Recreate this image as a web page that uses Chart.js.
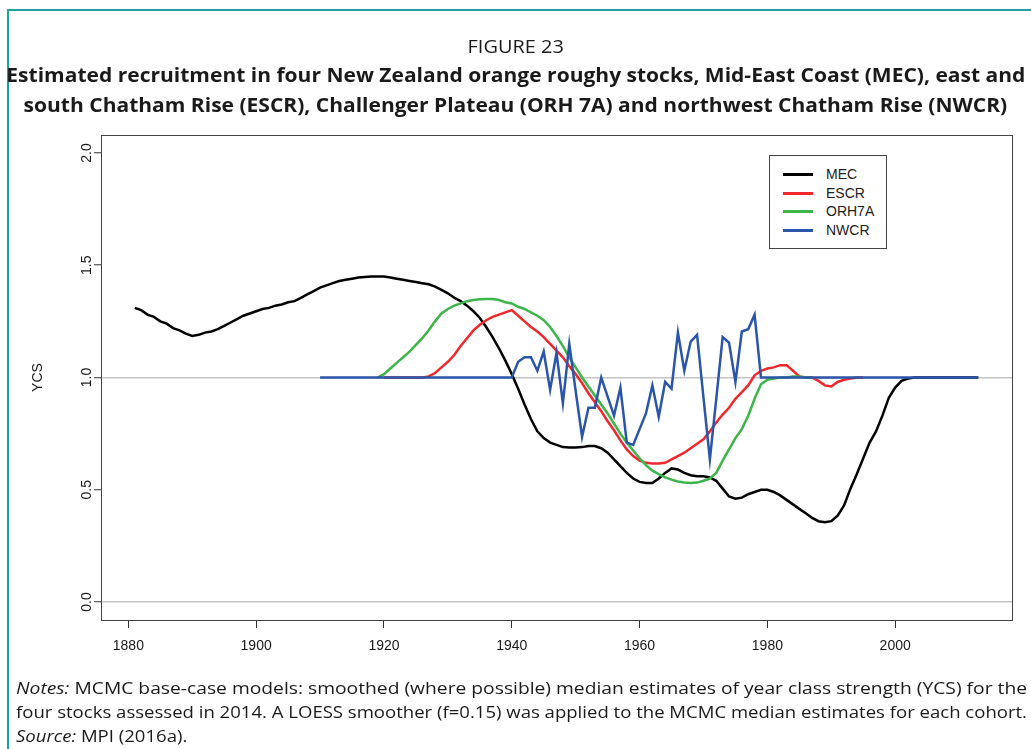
<!DOCTYPE html>
<html>
<head>
<meta charset="utf-8">
<script src="https://cdn.jsdelivr.net/npm/chart.js@4.4.1/dist/chart.umd.min.js"></script>
<style>
  html, body { margin: 0; padding: 0; background: #fff; }
  #wrap { position: relative; width: 1031px; height: 749px; overflow: hidden; }
  #frame { position: absolute; left: 7px; top: 9px; width: 1100px; height: 800px;
           border-left: 2px solid #1fa39e; border-top: 2px solid #1fa39e; }
  canvas { position: absolute; left: 0; top: 0; }
  .t { position: absolute; left: 0; width: 1031px; text-align: center; white-space: nowrap;
       font-family: "Open Sans", sans-serif; color: #1a1a1a; }
  .t span, .n span { display: inline-block; }
  .n { position: absolute; left: 16px; white-space: nowrap; font-family: "Open Sans", sans-serif;
       font-size: 17px; line-height: 24px; color: #1a1a1a; }
  #legend { position: absolute; left: 769px; top: 155px; width: 116px; height: 92px;
            border: 1px solid #444; background: #fff; font-family: "Liberation Sans", Arial, sans-serif;
            font-size: 14px; color: #222; }
  .li { position: absolute; left: 0; height: 18px; line-height: 18px; }
  .li i { position: absolute; left: 13px; top: 8px; width: 30px; height: 3px; }
  .li b { position: absolute; left: 56px; top: 0; font-weight: normal; }
</style>
</head>
<body>
<div id="wrap">
  <div id="frame"></div>
  <canvas id="chart" width="1031" height="749"></canvas>
  <div class="t" style="top:33px;font-size:18.5px;line-height:26px;"><span id="t1">FIGURE 23</span></div>
  <div class="t" style="top:60px;font-size:19.5px;line-height:30px;font-weight:bold;"><span id="t2">Estimated recruitment in four New Zealand orange roughy stocks, Mid-East Coast (MEC), east and</span></div>
  <div class="t" style="top:90px;font-size:19.5px;line-height:30px;font-weight:bold;"><span id="t3">south Chatham Rise (ESCR), Challenger Plateau (ORH 7A) and northwest Chatham Rise (NWCR)</span></div>
  <div class="n" style="top:676px;"><span id="n1"><i>Notes:</i> MCMC base-case models: smoothed (where possible) median estimates of year class strength (YCS) for the</span></div>
  <div class="n" style="top:700px;"><span id="n2">four stocks assessed in 2014. A LOESS smoother (f=0.15) was applied to the MCMC median estimates for each cohort.</span></div>
  <div class="n" style="top:724px;"><span id="n3"><i>Source:</i> MPI (2016a).</span></div>
  <div id="legend"></div>
</div>
<script>
// recruitment (YCS) by year class
const mecStart = 1881;
const mecYCS = [
  1.31, 1.30, 1.28, 1.27, 1.25, 1.24, 1.22, 1.21, 1.195, 1.185,
  1.19, 1.20, 1.205, 1.215, 1.23, 1.245, 1.26, 1.275, 1.285, 1.295,
  1.305, 1.31, 1.32, 1.325, 1.335, 1.34, 1.355, 1.37, 1.385, 1.40,
  1.41, 1.42, 1.43, 1.435, 1.44, 1.445, 1.448, 1.45, 1.45, 1.45,
  1.445, 1.44, 1.435, 1.43, 1.425, 1.42, 1.415, 1.405, 1.39, 1.375,
  1.355, 1.34, 1.32, 1.295, 1.265, 1.225, 1.18, 1.13, 1.075, 1.015,
  0.95, 0.88, 0.815, 0.76, 0.73, 0.71, 0.70, 0.69, 0.688, 0.688,
  0.69, 0.695, 0.695, 0.685, 0.665, 0.635, 0.605, 0.575, 0.55, 0.535,
  0.53, 0.53, 0.55, 0.575, 0.595, 0.59, 0.575, 0.565, 0.56, 0.56,
  0.555, 0.54, 0.505, 0.47, 0.46, 0.465, 0.48, 0.49, 0.50, 0.50,
  0.49, 0.475, 0.455, 0.435, 0.415, 0.395, 0.375, 0.36, 0.355, 0.36,
  0.385, 0.43, 0.505, 0.57, 0.64, 0.71, 0.76, 0.83, 0.91, 0.955,
  0.985, 0.995, 1.0, 1.0, 1.0, 1.0, 1.0, 1.0, 1.0, 1.0,
  1.0, 1.0, 1.0
];

const escrStart = 1920;
const escrYCS = [
  1.0, 1.0, 1.0, 1.0, 1.0, 1.0, 1.0, 1.005, 1.02, 1.045,
  1.07, 1.10, 1.14, 1.175, 1.21, 1.235, 1.255, 1.27, 1.28, 1.29,
  1.30, 1.275, 1.25, 1.225, 1.205, 1.18, 1.15, 1.12, 1.09, 1.05,
  1.015, 0.975, 0.93, 0.89, 0.85, 0.805, 0.765, 0.72, 0.68, 0.65,
  0.63, 0.62, 0.617, 0.617, 0.62, 0.635, 0.65, 0.665, 0.685, 0.705,
  0.725, 0.76, 0.80, 0.835, 0.865, 0.905, 0.935, 0.965, 1.01, 1.03,
  1.04, 1.045, 1.055, 1.055, 1.03, 1.005, 1.0, 1.0, 0.985, 0.965,
  0.96, 0.98, 0.99, 0.995, 1.0, 1.0
];

const orhStart = 1919;
const orhYCS = [
  1.0, 1.015, 1.04, 1.065, 1.09, 1.115, 1.145, 1.175, 1.21, 1.25,
  1.285, 1.305, 1.32, 1.33, 1.34, 1.345, 1.348, 1.35, 1.35, 1.345,
  1.335, 1.33, 1.315, 1.305, 1.29, 1.275, 1.255, 1.225, 1.185, 1.14,
  1.09, 1.045, 1.0, 0.96, 0.92, 0.88, 0.84, 0.795, 0.75, 0.71,
  0.675, 0.64, 0.61, 0.585, 0.57, 0.555, 0.545, 0.537, 0.532, 0.53,
  0.532, 0.54, 0.55, 0.575, 0.63, 0.68, 0.73, 0.77, 0.83, 0.905,
  0.97, 0.99, 0.995, 1.0, 1.0, 1.005, 1.005, 1.0, 1.0
];

const nwcrStart = 1910;
const nwcrYCS = [
  1.0, 1.0, 1.0, 1.0, 1.0, 1.0, 1.0, 1.0, 1.0, 1.0,
  1.0, 1.0, 1.0, 1.0, 1.0, 1.0, 1.0, 1.0, 1.0, 1.0,
  1.0, 1.0, 1.0, 1.0, 1.0, 1.0, 1.0, 1.0, 1.0, 1.0,
  1.0, 1.07, 1.09, 1.09, 1.03, 1.115, 0.945, 1.11, 0.885, 1.15,
  0.94, 0.735, 0.865, 0.865, 1.0, 0.915, 0.83, 0.955, 0.71, 0.70,
  0.77, 0.84, 0.965, 0.825, 0.98, 0.95, 1.20, 1.03, 1.16, 1.19,
  0.91, 0.635, 0.905, 1.18, 1.155, 0.98, 1.205, 1.215, 1.28, 1.0,
  1.0, 1.0, 1.0, 1.0, 1.0, 1.0, 1.0, 1.0, 1.0, 1.0,
  1.0, 1.0, 1.0, 1.0, 1.0, 1.0, 1.0, 1.0, 1.0, 1.0,
  1.0, 1.0, 1.0, 1.0, 1.0, 1.0, 1.0, 1.0, 1.0, 1.0,
  1.0, 1.0, 1.0, 1.0
];

const stockNames = ['MEC', 'ESCR', 'ORH7A', 'NWCR'];
const stockColors = ['#000000', '#f0282d', '#3cb54a', '#2a55a9'];
const xTicks = [1880, 1900, 1920, 1940, 1960, 1980, 2000];
const yTicks = [0, 0.5, 1, 1.5, 2];
const refLines = [0, 1];

const toPoints = (start, vals) => vals.map((v, i) => ({x: start + i, y: v}));
const series = [
  toPoints(mecStart, mecYCS),
  toPoints(escrStart, escrYCS),
  toPoints(orhStart, orhYCS),
  toPoints(nwcrStart, nwcrYCS),
];

const axisFont = {family: 'Liberation Sans', size: 14};

// plot frame (R box())
const boxPlugin = {
  id: 'box',
  beforeDatasetsDraw(chart) {
    const a = chart.chartArea;
    const ctx = chart.ctx;
    ctx.save();
    ctx.strokeStyle = '#444';
    ctx.lineWidth = 1;
    ctx.strokeRect(Math.round(a.left) + 0.5, Math.round(a.top) + 0.5,
      Math.round(a.right - a.left), Math.round(a.bottom - a.top));
    ctx.restore();
  }
};

let ctx = document.getElementById('chart').getContext('2d');
const chart = new Chart(ctx, {
  type: 'line',
  data: {
    datasets: stockNames.map((name, i) => ({
      label: name,
      data: series[i],
      borderColor: stockColors[i],
      backgroundColor: stockColors[i],
      borderWidth: 2.5,
      pointRadius: 0,
      tension: 0,
      fill: false,
      order: stockNames.length - 1 - i,
    }))
  },
  plugins: [boxPlugin],
  options: {
    responsive: false,
    animation: false,
    layout: {padding: {left: 0, right: 19, top: 135, bottom: 0}},
    plugins: {
      legend: {display: false},
      tooltip: {enabled: false},
    },
    scales: {
      x: {
        type: 'linear',
        min: 1875.72,
        max: 2018.28,
        afterBuildTicks: s => { s.ticks = xTicks.map(v => ({value: v})); },
        afterFit: s => { s.height = 129; },
        ticks: {
          autoSkip: false, maxRotation: 0, font: axisFont, color: '#1a1a1a', padding: 10,
          callback: v => String(v),
        },
        grid: {drawOnChartArea: false, drawTicks: true, tickLength: 8, tickColor: '#333', tickWidth: 1},
        border: {display: true, color: '#444', width: 1},
      },
      y: {
        type: 'linear',
        min: -0.08,
        max: 2.08,
        afterBuildTicks: s => { s.ticks = yTicks.map(v => ({value: v})); },
        afterFit: s => { s.width = 101; },
        ticks: {
          minRotation: 90, maxRotation: 90, crossAlign: 'center', padding: -3,
          font: axisFont, color: '#1a1a1a',
          callback: v => v.toFixed(1),
        },
        grid: {
          color: c => (c.tick && refLines.includes(c.tick.value)) ? '#c4c4c4' : 'rgba(0,0,0,0)',
          lineWidth: 1.5,
          drawTicks: true, tickLength: 7, tickColor: '#333', tickWidth: 1,
        },
        border: {display: true, color: '#444', width: 1},
        title: {
          display: true, text: 'YCS', color: '#1a1a1a',
          font: {family: 'Liberation Sans', size: 14},
          padding: {top: 30, bottom: 0},
        },
      },
    },
  },
});

// legend inside the plot
const lg = document.getElementById('legend');
stockNames.forEach((name, i) => {
  const row = document.createElement('div');
  row.className = 'li';
  row.style.top = (9 + i * 18.5) + 'px';
  row.style.width = '116px';
  row.innerHTML = '<i style="background:' + stockColors[i] + '"></i><b>' + name + '</b>';
  lg.appendChild(row);
});

// squeeze the condensed-looking text to the reference widths
function fit(id, target, origin) {
  const el = document.getElementById(id);
  const k = target / el.getBoundingClientRect().width;
  el.style.transformOrigin = origin;
  el.style.transform = 'scaleX(' + k + ')';
  return k;
}
function scaleBy(id, k, origin) {
  const el = document.getElementById(id);
  el.style.transformOrigin = origin;
  el.style.transform = 'scaleX(' + k + ')';
}
const kt = fit('t2', 1019, 'center');
scaleBy('t3', kt, 'center');
scaleBy('t1', kt, 'center');
fit('n1', 1011, 'left');
const kn = fit('n2', 1011, 'left');
scaleBy('n3', kn, 'left');
</script>
</body>
</html>
